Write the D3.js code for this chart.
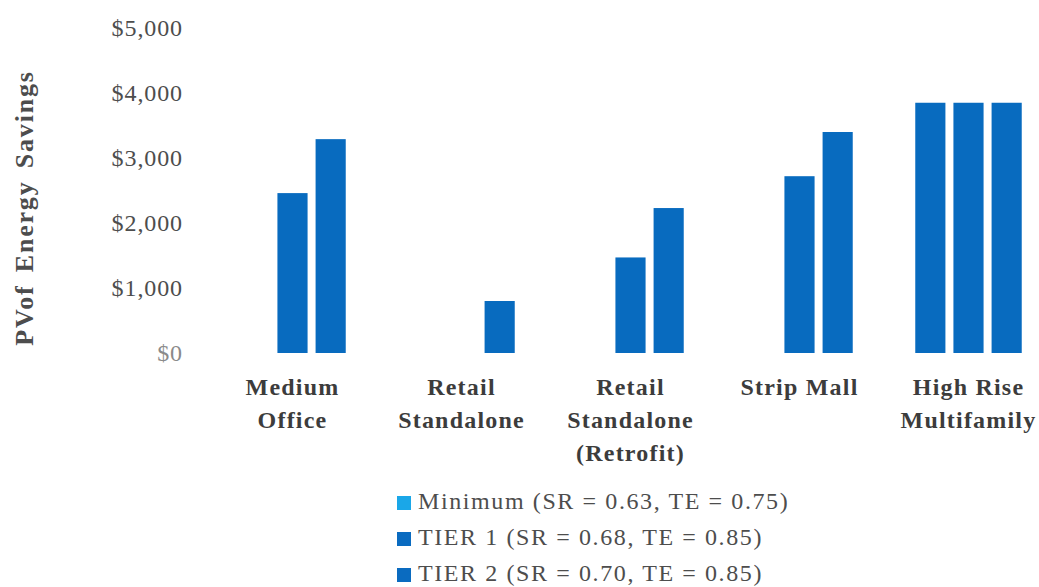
<!DOCTYPE html>
<html>
<head>
<meta charset="utf-8">
<script src="https://cdn.jsdelivr.net/npm/d3@7"></script>
<style>
  body { margin: 0; background: #fff; }
  svg { display: block; font-family: "Liberation Serif", "Times New Roman", serif; }
</style>
</head>
<body>
<svg width="1039" height="587"></svg>
<script>
// PV of energy savings by building type
var categories = [
  ["Medium", "Office"],
  ["Retail", "Standalone"],
  ["Retail", "Standalone", "(Retrofit)"],
  ["Strip Mall"],
  ["High Rise", "Multifamily"]
];
var seriesNames = [
  "Minimum (SR = 0.63, TE = 0.75)",
  "TIER 1 (SR = 0.68, TE = 0.85)",
  "TIER 2 (SR = 0.70, TE = 0.85)"
];
var minimum = [0, 0, 0, 0, 3850];
var tier1 = [2460, 0, 1470, 2720, 3850];
var tier2 = [3290, 800, 2230, 3400, 3850];
var yTicks = [0, 1000, 2000, 3000, 4000, 5000];

var legendColors = ["#1aa7e8", "#0a6bc0", "#0a6bc0"];
var barColor = "#086bbf";

var svg = d3.select("svg");
var catKeys = categories.map(function(c) { return c.join(" "); });
var values = [minimum, tier1, tier2];

var x0 = d3.scaleBand().domain(catKeys).range([208, 1053]).paddingInner(0.37).paddingOuter(0.185);
var x1 = d3.scaleBand().domain(d3.range(3)).range([0, x0.bandwidth()]).paddingInner(0.21);
var y = d3.scaleLinear().domain([0, 5000]).range([353, 28]);

// y axis labels (no line)
var yAxis = svg.append("g")
  .attr("transform", "translate(183,0)")
  .call(d3.axisLeft(y).tickValues(yTicks).tickSize(0).tickPadding(0)
    .tickFormat(function(d) { return "$" + d3.format(",")(d); }));
yAxis.select(".domain").remove();
yAxis.selectAll("text")
  .attr("font-family", "Liberation Serif, serif")
  .attr("font-size", 24)
  .attr("letter-spacing", "0.9px")
  .attr("fill", function(d) { return d === 0 ? "#8a8a8a" : "#4d4d4d"; });

svg.append("text")
  .attr("transform", "translate(33,208) rotate(-90)")
  .attr("text-anchor", "middle")
  .attr("font-size", 26)
  .attr("font-weight", "bold")
  .attr("letter-spacing", "1.8px")
  .attr("word-spacing", "4px")
  .attr("fill", "#4d4d4d")
  .text("PVof Energy Savings");

// bars
var groups = svg.append("g").selectAll("g")
  .data(catKeys)
  .join("g")
  .attr("transform", function(d) { return "translate(" + x0(d) + ",0)"; });

groups.selectAll("rect")
  .data(function(d, i) { return values.map(function(v, s) { return { s: s, v: v[i] }; }); })
  .join("rect")
  .attr("x", function(d) { return x1(d.s); })
  .attr("width", x1.bandwidth())
  .attr("y", function(d) { return y(d.v); })
  .attr("height", function(d) { return y(0) - y(d.v); })
  .attr("fill", barColor);

// category labels
groups.each(function(d, i) {
  var t = d3.select(this).append("text")
    .attr("text-anchor", "middle")
    .attr("font-size", 24)
    .attr("font-weight", "bold")
    .attr("letter-spacing", "1.2px")
    .attr("fill", "#3c3c3c");
  categories[i].forEach(function(line, k) {
    t.append("tspan")
      .attr("x", x0.bandwidth() / 2)
      .attr("y", 395 + k * 33)
      .text(line);
  });
});

// legend
var legend = svg.append("g").selectAll("g")
  .data(seriesNames)
  .join("g")
  .attr("transform", function(d, i) { return "translate(397," + (509 + i * 36) + ")"; });
legend.append("rect")
  .attr("x", 0).attr("y", -13)
  .attr("width", 14).attr("height", 14)
  .attr("fill", function(d, i) { return legendColors[i]; });
legend.append("text")
  .attr("x", 21)
  .attr("font-size", 24)
  .attr("letter-spacing", "1.6px")
  .attr("fill", "#4d4d4d")
  .text(function(d) { return d; });
</script>
</body>
</html>
